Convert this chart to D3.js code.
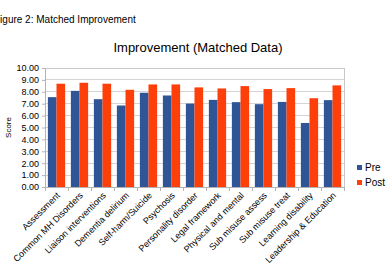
<!DOCTYPE html>
<html>
<head>
<meta charset="utf-8">
<script src="https://cdn.jsdelivr.net/npm/d3@7"></script>
<style>
  body { margin: 0; background: #fff; }
  svg { display: block; font-family: "Liberation Sans", Arial, sans-serif; }
</style>
</head>
<body>
<script>
'use strict';

// categories and the two series
var categories = ["Assessment", "Common MH Disorders", "Liaison interventions",
    "Dementia delirium", "Self-harm/Suicide", "Psychosis", "Personality disorder",
    "Legal framework", "Physical and mental", "Sub misuse assess",
    "Sub misuse treat", "Learning disability", "Leadership & Education"];
var pre  = [7.55, 8.08, 7.38, 6.85, 7.92, 7.69, 7.01, 7.32, 7.13, 6.96, 7.15, 5.38, 7.30];
var post = [8.68, 8.76, 8.68, 8.17, 8.62, 8.62, 8.37, 8.28, 8.48, 8.23, 8.31, 7.46, 8.54];
var seriesNames = ["Pre", "Post"];
var yTicks = [0, 1, 2, 3, 4, 5, 6, 7, 8, 9, 10];

var W = 387, H = 276;
var margin = {left: 45, right: 43, top: 68, bottom: 89};
var width = W - margin.left - margin.right;
var height = H - margin.top - margin.bottom;

var colors = ["#2f5597", "#ff3f0a"];

var svg = d3.select("body").append("svg")
    .attr("width", W)
    .attr("height", H);

// figure caption, the left edge is cut off in the original
svg.append("text")
    .attr("x", -6)
    .attr("y", 23)
    .attr("font-size", 10)
    .attr("fill", "#000")
    .text("Figure 2: Matched Improvement");

svg.append("text")
    .attr("x", 198)
    .attr("y", 52)
    .attr("text-anchor", "middle")
    .attr("font-size", 13)
    .attr("fill", "#000")
    .text("Improvement (Matched Data)");

var g = svg.append("g")
    .attr("transform", "translate(" + margin.left + "," + margin.top + ")");

var x0 = d3.scaleBand().domain(categories).range([0, width]).paddingInner(0.25).paddingOuter(0.125);
var xcell = d3.scaleBand().domain(categories).range([0, width]);
var x1 = d3.scaleBand().domain(seriesNames).range([0, x0.bandwidth()]);
var y = d3.scaleLinear().domain([0, 10]).range([height, 0]);

// grid
g.append("g")
    .selectAll("line")
    .data(yTicks)
    .join("line")
    .attr("x1", 0).attr("x2", width)
    .attr("y1", d => y(d)).attr("y2", d => y(d))
    .attr("stroke", "#d4d4d4")
    .attr("stroke-width", 1)
    .attr("shape-rendering", "crispEdges");

g.append("rect")
    .attr("width", width)
    .attr("height", height)
    .attr("fill", "none")
    .attr("stroke", "#c8c8c8")
    .attr("shape-rendering", "crispEdges");

// bars
var groups = g.selectAll("g.grp")
    .data(categories)
    .join("g")
    .attr("class", "grp")
    .attr("transform", d => "translate(" + x0(d) + ",0)");

groups.selectAll("rect")
    .data((d, i) => [pre[i], post[i]].map((v, k) => ({k: seriesNames[k], v: v, c: colors[k]})))
    .join("rect")
    .attr("x", d => x1(d.k))
    .attr("width", x1.bandwidth())
    .attr("y", d => y(d.v))
    .attr("height", d => height - y(d.v))
    .attr("fill", d => d.c);

// y axis
var yAxis = g.append("g")
    .call(d3.axisLeft(y).tickValues(yTicks).tickSize(3).tickFormat(d3.format(".2f")));
yAxis.select(".domain").attr("stroke", "#b3b3b3");
yAxis.selectAll(".tick line").attr("stroke", "#b3b3b3");
yAxis.selectAll("text").attr("font-size", 9).attr("fill", "#000")
    .attr("font-family", "Liberation Sans, Arial, sans-serif");

// x axis: tick marks between groups
var xAxis = g.append("g")
    .attr("transform", "translate(0," + height + ")");
xAxis.append("line")
    .attr("x1", 0).attr("x2", width)
    .attr("stroke", "#b3b3b3")
    .attr("shape-rendering", "crispEdges");
xAxis.selectAll("line.tk")
    .data(categories.concat(["end"]))
    .join("line")
    .attr("class", "tk")
    .attr("x1", (d, i) => i * xcell.step()).attr("x2", (d, i) => i * xcell.step())
    .attr("y1", 0).attr("y2", 4)
    .attr("stroke", "#b3b3b3")
    .attr("shape-rendering", "crispEdges");
xAxis.selectAll("text")
    .data(categories)
    .join("text")
    .attr("transform", d => "translate(" + (xcell(d) + xcell.bandwidth() / 2 + 4) + ",9) rotate(-45)")
    .attr("text-anchor", "end")
    .attr("font-size", 9)
    .attr("fill", "#000")
    .text(d => d);

// y axis label
svg.append("text")
    .attr("transform", "translate(11," + (margin.top + height / 2) + ") rotate(-90)")
    .attr("text-anchor", "middle")
    .attr("font-size", 8)
    .attr("fill", "#000")
    .text("Score");

// legend
var legend = svg.append("g")
    .attr("transform", "translate(357,165)");
seriesNames.forEach(function(name, i) {
    legend.append("rect")
        .attr("x", 0).attr("y", i * 15)
        .attr("width", 5).attr("height", 5)
        .attr("fill", colors[i]);
    legend.append("text")
        .attr("x", 8).attr("y", i * 15 + 6)
        .attr("font-size", 10)
        .attr("fill", "#000")
        .text(name);
});
</script>
</body>
</html>
